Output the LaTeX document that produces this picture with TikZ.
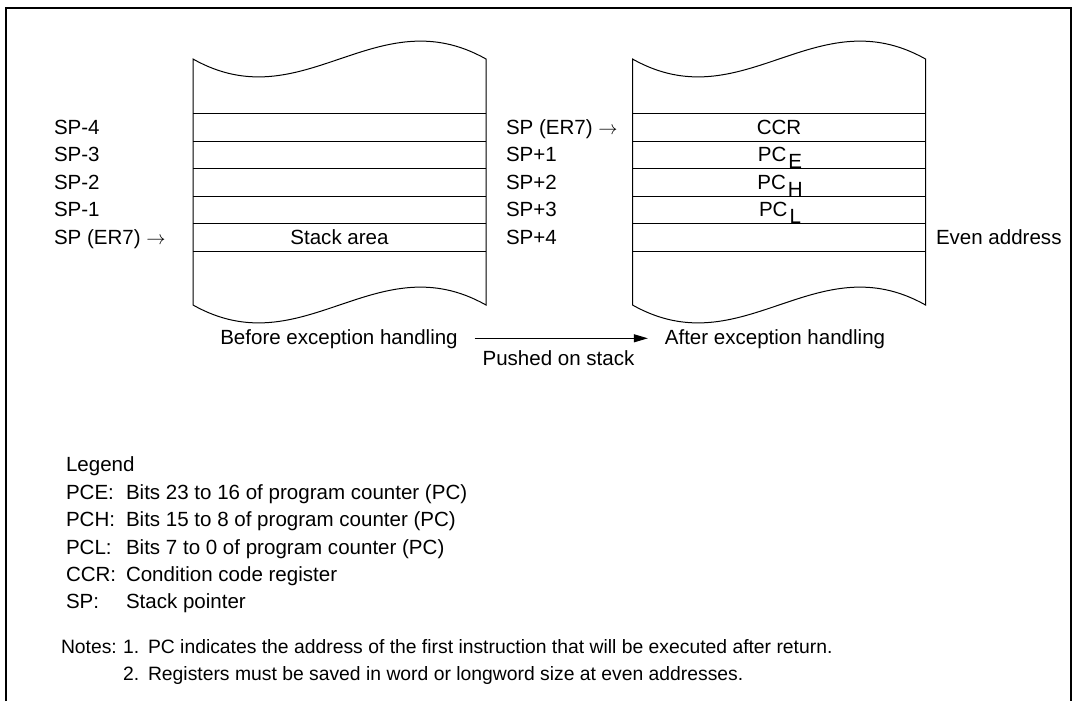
\documentclass[tikz,border=0pt]{standalone}
\usepackage{fontspec}
\setmainfont{Liberation Sans}
\usetikzlibrary{arrows.meta}
\begin{document}
\begin{tikzpicture}[x=0.75pt,y=-0.75pt,
  txt/.style={font=\fontsize{15.4pt}{18pt}\selectfont, inner sep=0pt, outer sep=0pt},
  lab/.style={txt, anchor=base west},
  note/.style={lab, font=\fontsize{14.5pt}{17pt}\selectfont},
  cell/.style={txt, anchor=base},
  edge/.style={line width=0.75pt, line join=miter},
  frame/.style={line width=1.7pt},
  push/.style={line width=0.75pt, -{Triangle[length=10.5pt,width=6pt]}}]
\useasboundingbox (0,0) rectangle (1076,701);
\draw[frame] (6.2,701) -- (6.2,7.7) -- (1071.2,7.7) -- (1071.2,701);

% stacks
\foreach \ox in {0,439.5} {
  \begin{scope}[xshift=\ox*0.75pt]
    \draw[edge] (193,59) .. controls (303,121) and (376,-3) .. (486,59)
      -- (486,305) .. controls (376,243) and (303,367) .. (193,305) -- cycle;
    \foreach \yy in {113.5,141,168.5,196,223.5,251}
      \draw[edge] (193,\yy) -- (486,\yy);
  \end{scope}
}

% left labels
\node[lab] (lm4) at (54,134.3) {SP-4};
\node[lab] (lm3) at (54,161.8) {SP-3};
\node[lab] (lm2) at (54,189.3) {SP-2};
\node[lab] (lm1) at (54,216.8) {SP-1};
\node[lab] (lsp) at (54,244.3) {SP (ER7) $\rightarrow$};
\node[cell] (stk) at (339.5,244.3) {Stack area};

% right labels
\node[lab] (rsp) at (506,134.3) {SP (ER7) $\rightarrow$};
\node[lab] (rp1) at (506,161.8) {SP+1};
\node[lab] (rp2) at (506,189.3) {SP+2};
\node[lab] (rp3) at (506,216.8) {SP+3};
\node[lab] (rp4) at (506,244.3) {SP+4};
\node[cell] (ccr) at (779,134.3) {CCR};
\node[cell] (pce) at (780,161.8) {PC\kern1.5pt\raisebox{-5.25pt}{E}};
\node[cell] (pch) at (780,189.3) {PC\kern1.5pt\raisebox{-5.25pt}{H}};
\node[cell] (pcl) at (780,216.8) {PC\kern1.5pt\raisebox{-5.25pt}{L}};
\node[lab] (even) at (936,244.3) {Even address};

% captions and arrow
\node[cell] (before) at (339,344) {Before exception handling};
\node[cell] (after) at (775,344) {After exception handling};
\node[cell] (pushed) at (558.5,365) {Pushed on stack};
\draw[push] ([shift={(17,-5.7)}]before.base east) -- ([shift={(-17,-5.7)}]after.base west);

% legend
\node[lab] (leg) at (66,471) {Legend};
\node[lab] (kpce) at (66,499) {PCE:};
\node[lab] (vpce) at (126,499) {Bits 23 to 16 of program counter (PC)};
\node[lab] (kpch) at (66,526) {PCH:};
\node[lab] (vpch) at (126,526) {Bits 15 to 8 of program counter (PC)};
\node[lab] (kpcl) at (66,554) {PCL:};
\node[lab] (vpcl) at (126,554) {Bits 7 to 0 of program counter (PC)};
\node[lab] (kccr) at (66,581) {CCR:};
\node[lab] (vccr) at (126,581) {Condition code register};
\node[lab] (ksp) at (66,608) {SP:};
\node[lab] (vsp) at (126,608) {Stack pointer};

% notes
\node[note] (notes) at (61,653) {Notes:};
\node[note] (n1) at (123,653) {1.};
\node[note] (t1) at (148,653) {PC indicates the address of the first instruction that will be executed after return.};
\node[note] (n2) at (123,680) {2.};
\node[note] (t2) at (148,680) {Registers must be saved in word or longword size at even addresses.};
\end{tikzpicture}
\end{document}
